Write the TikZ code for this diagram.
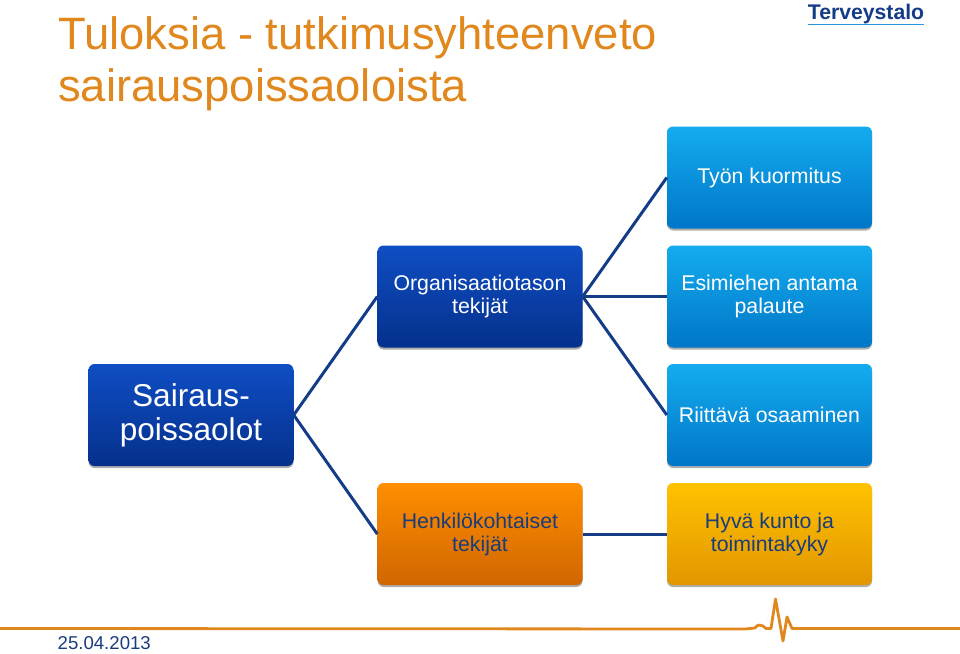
\documentclass[tikz,border=0pt]{standalone}
\usepackage{fontspec}
\setmainfont{Liberation Sans}
\usetikzlibrary{shadows}
\definecolor{linkblue}{RGB}{20,60,135}
\definecolor{titleorange}{RGB}{224,135,30}
\definecolor{datenavy}{RGB}{25,60,125}
\definecolor{lighttop}{RGB}{20,172,238}
\definecolor{lightbot}{RGB}{0,118,200}
\definecolor{darktop}{RGB}{15,78,195}
\definecolor{darkbot}{RGB}{5,48,140}
\definecolor{orangetop}{RGB}{255,142,0}
\definecolor{orangebot}{RGB}{208,102,0}
\definecolor{yellowtop}{RGB}{255,194,0}
\definecolor{yellowbot}{RGB}{226,150,0}
\definecolor{logoline}{RGB}{40,150,220}
\begin{document}
\begin{tikzpicture}[x=1pt, y=-1pt,
    box/.style={rounded corners=6pt, minimum width=205pt, minimum height=102pt, inner sep=0pt,
      align=center, font=\fontsize{21.3}{23}\selectfont, text=white, draw=none,
      drop shadow={shadow xshift=0pt, shadow yshift=-2pt, opacity=0.45, fill=black!70}},
    lightbox/.style={box, top color=lighttop, bottom color=lightbot},
    darkbox/.style={box, top color=darktop, bottom color=darkbot},
    orangebox/.style={box, text=datenavy, top color=orangetop, bottom color=orangebot},
    yellowbox/.style={box, text=datenavy, top color=yellowtop, bottom color=yellowbot},
    link/.style={draw=linkblue, line width=3pt}]
    \useasboundingbox (0,0) rectangle (960,653);

    \node[anchor=west, inner sep=0pt, text=titleorange, align=left, font=\fontsize{45.4}{52.5}\selectfont] (title) at (58,64)
      {Tuloksia - tutkimusyhteenveto\\sairauspoissaoloista};

    \node[inner sep=0pt, text=linkblue, font=\fontsize{21.2}{24}\bfseries\selectfont] (logo) at (866,14) {Terveystalo};
    \draw[logoline, line width=1.6pt] (808,24.5) -- (924,24.5);

    \node[lightbox] (kuormitus) at (769.5,177.5) {\raisebox{-2pt}{Työn kuormitus}};
    \node[lightbox] (palaute) at (769.5,296.5) {Esimiehen antama\\palaute};
    \node[lightbox] (osaaminen) at (769.5,415) {Riittävä osaaminen};
    \node[yellowbox] (kunto) at (769.5,534) {Hyvä kunto ja\\toimintakyky};
    \node[darkbox] (org) at (480,296.5) {Organisaatiotason\\tekijät};
    \node[orangebox] (henk) at (480,534) {Henkilökohtaiset\\tekijät};
    \node[darkbox, font=\fontsize{31.6}{34}\selectfont] (sairaus) at (191,415) {Sairaus-\\poissaolot};

    \draw[link] (sairaus.east) -- (org.west);
    \draw[link] (sairaus.east) -- (henk.west);
    \draw[link] (org.east) -- (kuormitus.west);
    \draw[link] (org.east) -- (palaute.west);
    \draw[link] (org.east) -- (osaaminen.west);
    \draw[link] (henk.east) -- (kunto.west);

    % pulse line
    \draw[titleorange, line width=2.8pt, line join=round] (0,628.5) -- (745,629)
      -- (755,628) .. controls (757,624) and (762,624) .. (766,628.5) -- (771,628.5)
      -- (775.5,599) -- (783,641) -- (787,617) -- (792,628.5) -- (960,628.5);

    \node[anchor=west, inner sep=0pt, text=datenavy, font=\fontsize{18.6}{20}\selectfont] (date) at (57.5,643.5) {25.04.2013};
  \end{tikzpicture}
\end{document}
